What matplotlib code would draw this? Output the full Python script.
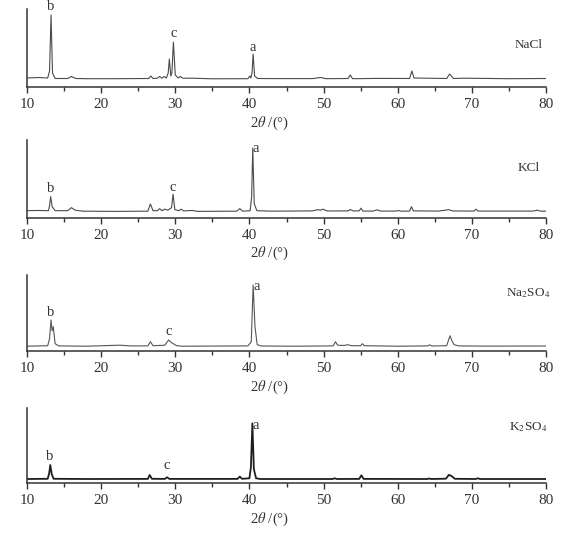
import matplotlib
matplotlib.use('Agg')
import matplotlib.pyplot as plt
import numpy as np

plt.rcParams['font.family'] = ['Liberation Serif', 'DejaVu Serif']
plt.rcParams['mathtext.fontset'] = 'stix'

# ── XRD traces: (2theta, intensity a.u.) vertices ────────────────────────────
nacl = [(10, 1), (11.5, 1.5), (12.8, 1), (13.05, 8), (13.25, 64), (13.45, 6), (13.8, 0.5),
        (15.5, 0.5), (16.0, 2.5), (16.6, 0.5), (18, 0.3), (22, 0.3), (26.4, 0.5), (26.7, 3),
        (27.0, 0.5), (27.6, 0.8), (27.9, 2.5), (28.2, 0.8), (28.5, 2.5), (28.8, 1),
        (29.05, 6), (29.2, 20), (29.4, 3), (29.55, 6), (29.75, 37), (30.0, 4), (30.4, 1),
        (30.7, 2.5), (31.0, 0.8), (32.3, 0.8), (35, 0.2), (39.8, 0.3), (40.05, 3),
        (40.2, 1), (40.35, 6), (40.5, 25), (40.7, 3), (41.1, 0.5), (43, 0.4), (48.5, 0.4),
        (49.6, 1.5), (50.3, 0.3), (53.3, 0.5), (53.6, 4), (53.9, 0.3), (57.5, 0.6),
        (61.6, 0.5), (61.9, 8), (62.2, 1), (66.6, 0.5), (67.0, 5), (67.5, 0.5), (69, 0.8),
        (75, 0.3), (80, 0.5)]

kcl = [(10, 1), (11.5, 1.2), (12.9, 1), (13.05, 6), (13.2, 15), (13.4, 5), (13.8, 1),
       (15.5, 1), (16.0, 4), (16.5, 1.5), (17.5, 0.5), (22, 0.3), (26.3, 0.5), (26.65, 7.7),
       (27.0, 1), (27.6, 1), (27.9, 3), (28.2, 1), (28.6, 2.5), (29.0, 1.5), (29.5, 4),
       (29.7, 17.4), (29.95, 2), (30.5, 1), (30.8, 2.5), (31.1, 0.8), (32.3, 1.2), (33, 0.3),
       (38.3, 0.5), (38.7, 3), (39.1, 0.5), (40.1, 1), (40.3, 15), (40.45, 63.7), (40.65, 8),
       (41.0, 1), (43, 0.5), (48.5, 0.8), (49.2, 2), (49.6, 1.5), (49.9, 2.5), (50.5, 0.7),
       (53.3, 0.8), (53.6, 2.2), (54.0, 0.7), (54.8, 0.8), (55.05, 3.5), (55.3, 0.6),
       (56.7, 0.6), (57.2, 1.8), (57.7, 0.6), (59.8, 0.6), (60.1, 1.2), (60.4, 0.5),
       (61.6, 0.6), (61.85, 5), (62.1, 0.8), (65.5, 0.6), (66.9, 2), (67.4, 0.7), (70.3, 0.6),
       (70.55, 2.5), (70.8, 0.6), (78.3, 0.6), (78.8, 1.5), (79.3, 0.5), (80, 0.5)]

na2so4 = [(10, 0.5), (12.8, 1), (13.05, 8), (13.25, 26.7), (13.4, 16), (13.55, 20), (13.8, 3),
          (14.3, 0.8), (18, 0.5), (22.5, 1.5), (24, 0.8), (26.3, 0.8), (26.65, 5), (27.0, 1),
          (28.6, 1.5), (29.1, 6.7), (29.5, 4), (30.2, 1), (31, 0.5), (39.8, 0.8), (40.25, 5),
          (40.5, 61.7), (40.75, 20), (41.05, 2), (41.6, 0.7), (46, 0.5), (51.3, 0.8), (51.6, 5),
          (51.9, 1.5), (52.8, 1.2), (53.2, 2), (53.8, 1), (55.0, 1), (55.25, 3), (55.5, 1),
          (60, 0.5), (64.0, 0.8), (64.3, 1.8), (64.6, 0.7), (66.6, 1), (67.05, 11), (67.3, 6),
          (67.6, 2), (68.2, 0.8), (72, 0.6), (80, 0.7)]

k2so4 = [(10, 0.3), (12.8, 0.5), (13.0, 6), (13.15, 14.3), (13.35, 5), (13.6, 0.5), (18, 0.3),
         (26.3, 0.4), (26.55, 4.3), (26.85, 0.5), (28.6, 0.4), (28.9, 2), (29.2, 0.4),
         (38.4, 0.4), (38.7, 2.7), (39.0, 0.5), (40.0, 1), (40.2, 12), (40.4, 56), (40.6, 10),
         (40.9, 1), (41.5, 0.3), (51.2, 0.3), (51.5, 1), (51.8, 0.3), (54.8, 0.4), (55.1, 4),
         (55.4, 0.4), (64.0, 0.3), (64.2, 0.8), (64.5, 0.3), (66.5, 0.6), (66.9, 4.5),
         (67.3, 3), (67.7, 0.5), (70.5, 0.3), (70.8, 1), (71.1, 0.3), (80, 0.3)]

samples = ['NaCl', 'KCl', 'Na$_2$SO$_4$', 'K$_2$SO$_4$']
traces = [nacl, kcl, na2so4, k2so4]
# peak labels: (text, 2theta, intensity)
peak_labels = [
    [('b', 13.2, 72.3), ('c', 29.8, 45.7), ('a', 40.4, 31.3)],
    [('b', 13.2, 23.4), ('c', 29.65, 24.4), ('a', 40.9, 62.7)],
    [('b', 13.2, 34.0), ('c', 29.15, 15.0), ('a', 40.95, 60.0)],
    [('b', 13.0, 22.6), ('c', 28.8, 13.6), ('a', 40.9, 53.6)],
]

# ── Layout (fractions of 573x540 canvas) ─────────────────────────────────────
boxes = [(0.047, 0.8389, 0.906, 0.1444),
         (0.047, 0.5969, 0.906, 0.1439),
         (0.047, 0.3500, 0.906, 0.1407),
         (0.047, 0.1050, 0.906, 0.1400)]
ylims = [(-8, 70), (-6, 71.7), (-4.3, 71.7), (-4, 71.6)]
name_y = [0.54, 0.64, 0.76, 0.75]
xlab_y = [-0.46, -0.455, -0.48, -0.47]
line_col = ['#4a4a4a', '#4a4a4a', '#555555', '#1e1e1e']
line_w = [0.8, 0.8, 0.8, 1.3]
TXT = '#333333'

fig = plt.figure(figsize=(5.73, 5.40), dpi=100)

for k in range(4):
    ax = fig.add_axes(boxes[k])
    pts = np.array(traces[k]).T
    ax.plot(pts[0], pts[1], color=line_col[k], lw=line_w[k])
    ax.set_xlim(10, 80)
    ax.set_ylim(*ylims[k])
    ax.set_yticks([])
    ax.set_xticks(np.arange(10, 81, 10))
    ax.set_xticks(np.arange(15, 80, 10), minor=True)
    ax.tick_params(axis='x', which='major', direction='out', length=4, width=1,
                   pad=4, labelsize=11, colors=TXT)
    ax.tick_params(axis='x', which='minor', direction='out', length=3, width=1, colors=TXT)
    for s in ['top', 'right']:
        ax.spines[s].set_visible(False)
    for s in ['left', 'bottom']:
        ax.spines[s].set_linewidth(1.1)
        ax.spines[s].set_color('#333333')
    ax.patch.set_alpha(0)

    for txt, xx, yy in peak_labels[k]:
        ax.text(xx, yy, txt, ha='center', va='center', fontsize=10.5, color=TXT,
                clip_on=False)
    ax.text(77.6, ylims[k][0] + name_y[k] * (ylims[k][1] - ylims[k][0]), samples[k],
            ha='center', va='center', fontsize=9.5, color=TXT)
    ax.text(0.468, xlab_y[k], r'2$\theta$ /(°)', transform=ax.transAxes,
            ha='center', va='center', fontsize=10.5, color=TXT)

fig.savefig('out.png', dpi=100)
plt.close(fig)
